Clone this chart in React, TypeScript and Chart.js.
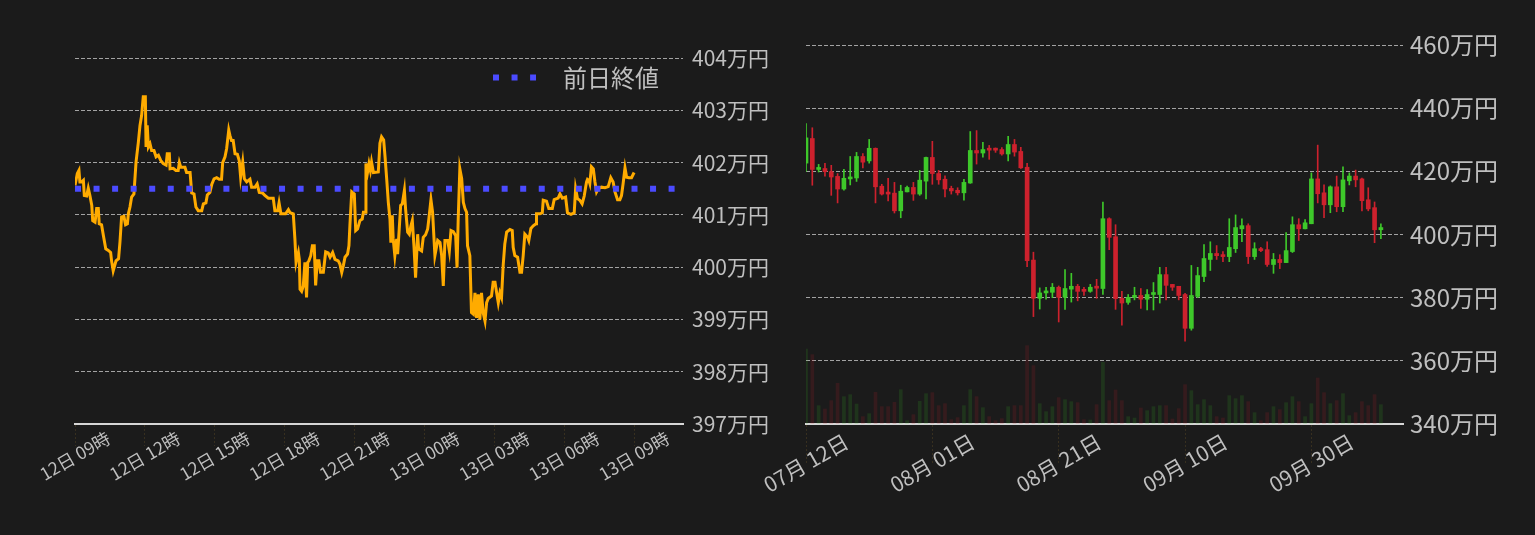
import React, { useEffect, useRef } from "react";
import { Chart, registerables } from "chart.js";

Chart.register(...registerables);

const FONT = '"Noto Sans CJK JP", "Noto Sans", sans-serif';
const TEXT = "#bfbfbf";
const BG = "#1b1b1b";
const GRID = "rgba(210,210,210,0.75)";
const AXIS_LINE = "#d6d6d6";

// ---------- Left: intraday (hours since 12日 09時, price in 万円) ----------
const intradaySeries: [number, number][] = [
  [0, 401.56], [0.1, 401.79], [0.17, 401.85], [0.21, 401.63], [0.29, 401.63], [0.36, 401.66], [0.4, 401.37], [0.5, 401.36], [0.57, 401.51], [0.64, 401.37],
  [0.72, 401.18], [0.76, 400.89], [0.86, 400.86], [0.93, 401.12], [1.0, 401.12], [1.04, 400.83], [1.14, 400.81], [1.22, 400.6], [1.32, 400.35], [1.43, 400.32],
  [1.53, 400.28], [1.57, 400.12], [1.64, 399.93], [1.76, 400.12], [1.87, 400.16], [1.93, 400.48], [2.0, 400.96], [2.1, 400.97], [2.17, 400.81], [2.25, 400.83],
  [2.29, 401.02], [2.36, 401.15], [2.43, 401.34], [2.53, 401.4], [2.62, 402.01], [2.72, 402.39], [2.79, 402.71], [2.86, 402.9], [2.93, 403.26], [3.02, 403.26],
  [3.05, 402.3], [3.1, 402.71], [3.15, 402.3], [3.22, 402.36], [3.29, 402.23], [3.39, 402.23], [3.48, 402.11], [3.58, 402.14], [3.68, 402.04], [3.79, 401.98],
  [3.91, 401.95], [3.96, 402.17], [4.05, 402.17], [4.08, 401.88], [4.22, 401.89], [4.33, 401.85], [4.43, 401.85], [4.48, 402.0], [4.54, 401.91], [4.72, 401.91],
  [4.79, 401.81], [4.94, 401.81], [5.01, 401.42], [5.11, 401.4], [5.19, 401.15], [5.29, 401.08], [5.44, 401.08], [5.51, 401.21], [5.62, 401.23], [5.68, 401.38],
  [5.79, 401.43], [5.87, 401.58], [5.97, 401.69], [6.08, 401.71], [6.19, 401.68], [6.29, 401.68], [6.34, 402.0], [6.44, 402.11], [6.51, 402.27], [6.6, 402.62],
  [6.65, 402.52], [6.72, 402.42], [6.79, 402.42], [6.87, 402.17], [6.97, 402.16], [7.05, 402.04], [7.11, 401.72], [7.2, 402.01], [7.27, 401.69], [7.37, 401.63],
  [7.51, 401.68], [7.58, 401.53], [7.73, 401.53], [7.82, 401.59], [7.91, 401.43], [8.05, 401.42], [8.15, 401.37], [8.3, 401.32], [8.37, 401.32],
  [8.51, 401.32], [8.58, 401.08], [8.7, 401.08], [8.76, 401.23], [8.84, 401.02], [9.04, 401.02], [9.16, 401.1], [9.23, 401.04], [9.37, 401.02], [9.44, 400.54],
  [9.49, 400.09], [9.59, 400.28], [9.63, 400.15], [9.66, 399.58], [9.73, 399.54], [9.8, 399.64], [9.87, 400.09], [9.94, 399.42], [9.99, 400.09], [10.04, 400.12],
  [10.12, 400.22], [10.19, 400.41], [10.27, 400.41], [10.33, 399.65], [10.4, 400.12], [10.47, 400.12], [10.54, 399.9], [10.66, 399.9], [10.76, 400.29], [10.87, 400.27],
  [10.95, 400.19], [11.06, 400.28], [11.16, 400.15], [11.3, 400.12], [11.37, 400.06], [11.45, 399.9], [11.52, 400.03], [11.59, 400.19], [11.7, 400.25], [11.76, 400.41],
  [11.8, 400.79], [11.88, 401.44], [11.99, 401.4], [12.05, 400.7], [12.13, 400.73], [12.23, 400.89], [12.33, 400.92], [12.38, 401.05], [12.45, 401.05], [12.49, 401.98],
  [12.56, 401.82], [12.62, 401.98], [12.68, 401.85], [12.73, 402.01], [12.81, 401.81], [13.02, 401.82], [13.09, 402.37], [13.16, 402.49], [13.25, 402.43], [13.31, 402.11],
  [13.38, 401.69], [13.45, 401.24], [13.52, 400.92], [13.56, 400.47], [13.62, 400.99], [13.66, 400.54], [13.73, 400.22], [13.81, 400.54], [13.85, 400.25], [13.91, 400.67],
  [13.98, 401.18], [14.05, 401.21], [14.14, 401.47], [14.19, 401.12], [14.28, 400.67], [14.35, 400.63], [14.42, 400.79], [14.48, 400.89], [14.55, 400.41], [14.62, 399.8],
  [14.71, 400.63], [14.75, 400.35], [14.88, 400.31], [14.95, 400.57], [15.05, 400.62], [15.14, 400.73], [15.19, 400.92], [15.28, 401.29], [15.35, 401.05], [15.45, 400.22],
  [15.57, 400.51], [15.67, 400.47], [15.74, 400.22], [15.81, 399.64], [15.88, 400.51], [16.0, 400.51], [16.07, 400.31], [16.14, 400.7], [16.24, 400.68], [16.34, 400.6],
  [16.4, 399.99], [16.45, 400.92], [16.52, 401.88], [16.6, 401.69], [16.67, 401.24],
  [16.74, 401.12], [16.81, 401.05], [16.85, 400.41], [16.95, 400.22], [17.02, 399.13], [17.1, 399.1], [17.17, 399.51], [17.24, 399.03], [17.31, 399.48], [17.38, 399.0],
  [17.45, 399.51], [17.52, 399.13], [17.6, 398.97], [17.67, 399.32], [17.74, 399.4], [17.88, 399.45], [17.95, 399.71], [18.03, 399.71], [18.1, 399.51], [18.17, 399.32],
  [18.24, 399.51], [18.31, 399.42], [18.38, 400.03], [18.45, 400.44], [18.53, 400.67], [18.67, 400.72], [18.77, 400.7], [18.81, 400.38], [18.88, 400.22], [19.0, 400.19],
  [19.1, 399.9], [19.17, 399.9], [19.24, 400.22], [19.31, 400.63], [19.43, 400.57], [19.48, 400.51], [19.57, 400.74], [19.67, 400.79], [19.79, 400.83], [19.81, 401.02],
  [19.96, 401.02], [20.06, 401.04], [20.1, 401.28], [20.24, 401.26], [20.34, 401.12], [20.49, 401.12], [20.57, 401.29], [20.74, 401.32], [20.82, 401.4], [20.92, 401.32],
  [21.06, 401.34], [21.14, 401.04], [21.29, 401.01], [21.43, 401.04], [21.49, 401.5], [21.57, 401.31], [21.67, 401.28], [21.77, 401.21], [21.86, 401.36], [21.92, 401.53],
  [21.96, 401.63], [22.0, 401.68], [22.06, 401.66], [22.1, 401.6], [22.17, 401.92], [22.25, 401.88], [22.32, 401.63], [22.39, 401.44], [22.46, 401.5], [22.6, 401.53],
  [22.75, 401.52], [22.89, 401.54], [23.0, 401.71], [23.1, 401.63], [23.18, 401.44], [23.29, 401.29], [23.39, 401.29], [23.46, 401.37], [23.53, 401.6], [23.61, 401.9],
  [23.68, 401.72], [23.78, 401.71], [23.89, 401.71], [24.0, 401.81],
];
const prevClose = 401.5;
const prevCloseLabel = "前日終値";
const intradayXTicks = [0, 3, 6, 9, 12, 15, 18, 21, 24];
const intradayXMax = 26.1;
const intradayYMin = 397;
const intradayYMax = 404;

// ---------- Right: daily candles from 07月12日 ----------
const dailyOpen = [
  422.6, 430.4, 420.6, 420.9, 419.9, 418.4, 414.4, 417.6, 417.9, 424.7,
  423.3, 427.3, 415.3, 413.1, 413.1, 407.5, 413.5, 414.9, 412.8, 416.9,
  424.4, 419.3, 417.5, 414.6, 414.0, 413.2, 416.3, 426.6, 425.8, 426.9,
  426.9, 426.9, 425.5, 428.5, 426.3, 421.3, 391.9, 379.8, 381.5, 381.7,
  383.3, 380.1, 382.7, 383.6, 382.2, 382.0, 383.3, 382.9, 405.0, 399.3,
  379.8, 378.5, 380.1, 380.7, 379.5, 381.0, 381.0, 387.3, 384.2, 383.6,
  381.0, 370.3, 380.4, 386.7, 392.1, 394.0, 393.6, 393.0, 395.5, 401.8,
  402.8, 393.0, 395.5, 395.2, 390.5, 392.1, 391.1, 394.6, 403.1, 401.8,
  403.4, 417.6, 413.2, 409.4, 415.1, 408.8, 417.0, 418.5, 417.6, 411.0,
  408.5, 401.5,
];
const dailyHigh = [
  435.1, 433.8, 422.2, 422.5, 421.9, 419.3, 420.6, 424.7, 426.0, 425.6,
  430.1, 427.4, 415.9, 417.8, 416.5, 415.6, 415.3, 416.5, 420.3, 424.5,
  429.5, 420.3, 418.6, 415.3, 414.8, 417.5, 432.6, 432.9, 429.2, 428.2,
  427.4, 427.5, 431.1, 430.1, 427.6, 422.5, 394.4, 383.1, 383.3, 384.5,
  383.7, 388.9, 387.7, 384.2, 383.3, 384.2, 385.8, 410.3, 405.3, 403.1,
  382.0, 381.0, 383.3, 382.9, 382.6, 384.8, 389.6, 389.6, 384.2, 383.6,
  381.4, 390.2, 389.6, 396.8, 397.7, 396.5, 394.6, 405.0, 406.2, 405.0,
  403.4, 397.4, 395.9, 397.7, 394.0, 393.6, 400.6, 405.6, 405.0, 404.7,
  419.5, 428.3, 415.7, 415.4, 418.5, 421.4, 419.5, 420.4, 417.9, 414.8,
  410.3, 403.4,
];
const dailyLow = [
  420.0, 415.6, 419.8, 418.5, 412.4, 410.0, 414.0, 415.7, 416.8, 421.1,
  422.6, 410.0, 412.5, 410.6, 406.8, 405.3, 413.5, 410.8, 412.4, 411.3,
  415.9, 415.9, 411.9, 412.8, 412.5, 410.9, 416.2, 422.3, 424.5, 423.8,
  426.0, 425.1, 423.3, 424.8, 420.9, 389.8, 374.0, 376.4, 379.5, 380.0,
  372.3, 376.3, 378.6, 379.0, 380.7, 381.7, 379.8, 381.0, 395.2, 376.3,
  371.3, 377.9, 379.3, 376.6, 376.1, 376.1, 378.3, 379.3, 382.3, 379.3,
  366.2, 369.7, 380.0, 385.1, 388.6, 392.1, 391.4, 391.4, 394.3, 397.7,
  390.8, 392.1, 394.6, 389.9, 387.7, 389.2, 391.1, 394.3, 398.1, 401.8,
  403.4, 410.0, 405.3, 406.9, 407.2, 407.2, 415.7, 415.1, 407.5, 407.5,
  397.4, 398.7,
];
const dailyClose = [
  430.6, 420.6, 420.9, 419.9, 418.2, 414.4, 417.8, 418.1, 424.7, 422.9,
  427.3, 415.1, 412.8, 412.8, 407.5, 413.7, 414.9, 412.8, 417.2, 424.4,
  419.3, 417.3, 414.4, 413.8, 413.2, 416.5, 426.6, 425.8, 426.9, 426.7,
  426.7, 425.5, 428.5, 426.1, 421.1, 391.7, 379.8, 381.5, 382.0, 383.3,
  380.1, 382.9, 383.6, 382.0, 382.0, 383.3, 383.0, 405.0, 399.1, 379.7,
  378.3, 380.1, 380.7, 379.5, 381.0, 381.4, 387.3, 383.9, 383.3, 380.7,
  370.3, 380.7, 387.0, 392.4, 394.0, 393.3, 393.0, 395.9, 402.2, 402.8,
  393.0, 395.5, 394.9, 390.5, 392.1, 391.1, 394.9, 403.1, 401.8, 403.7,
  417.6, 412.9, 409.4, 415.1, 408.8, 417.3, 418.5, 417.3, 410.7, 408.1,
  401.5, 402.2,
];
const dailyVolume = [
  225, 208, 55, 45, 70, 122, 82, 88, 60, 22,
  31, 95, 52, 52, 65, 103, 10, 28, 68, 91,
  94, 55, 61, 13, 19, 55, 103, 82, 49, 22,
  10, 16, 52, 55, 55, 235, 175, 61, 37, 52,
  79, 73, 67, 64, 13, 12, 58, 185, 70, 102,
  70, 22, 18, 48, 40, 52, 55, 55, 15, 46,
  118, 100, 58, 73, 55, 22, 18, 85, 76, 85,
  67, 34, 10, 34, 52, 43, 64, 82, 67, 22,
  61, 138, 94, 61, 70, 91, 25, 34, 67, 55,
  88, 58,
];
const dailyXTicks = [0, 20, 40, 60, 80];
const dailyXMax = 94.5;
const dailyYMin = 340;
const dailyYMax = 460;
const dailyVolMax = 1137;
const dailyStart = new Date(2024, 6, 12);

const UP = "rgb(62,200,42)";
const DOWN = "rgb(205,33,45)";
const UP_VOL = "rgba(62,200,42,0.15)";
const DOWN_VOL = "rgba(205,33,45,0.15)";

const pad2 = (n: number) => String(n).padStart(2, "0");
const fmtHour = (h: number) => {
  const t = 9 + h;
  const day = 12 + Math.floor(t / 24);
  return `${pad2(day)}日 ${pad2(t % 24)}時`;
};
const fmtDay = (d: number) => {
  const dt = new Date(dailyStart.getFullYear(), dailyStart.getMonth(), dailyStart.getDate() + d);
  return `${pad2(dt.getMonth() + 1)}月 ${pad2(dt.getDate())}日`;
};

const rotatedLabels = (size: number, offset: number, fmt: (v: number) => string) => ({
  id: "rotLabels",
  afterDraw(chart: any) {
    const s = chart.scales.x;
    const ctx = chart.ctx;
    ctx.save();
    ctx.font = `${size}px ${FONT}`;
    ctx.fillStyle = TEXT;
    ctx.textAlign = "center";
    ctx.textBaseline = "middle";
    s.ticks.forEach((t: any) => {
      const px = s.getPixelForValue(t.value);
      ctx.save();
      ctx.translate(px, s.top + offset);
      ctx.rotate(-Math.PI / 6);
      ctx.fillText(fmt(t.value), 0, 0);
      ctx.restore();
    });
    ctx.restore();
  },
});

const prevCloseLegend = {
  id: "prevLegend",
  afterDraw(chart: any) {
    const ds = chart.data.datasets[1];
    const { ctx, chartArea } = chart;
    const y = chartArea.top + 19.5;
    const textX = chartArea.right - 120;
    ctx.save();
    ctx.font = `24px ${FONT}`;
    ctx.fillStyle = TEXT;
    ctx.textAlign = "left";
    ctx.textBaseline = "middle";
    ctx.fillText(ds.label, textX, y);
    ctx.strokeStyle = ds.borderColor;
    ctx.lineWidth = ds.borderWidth;
    ctx.setLineDash(ds.borderDash);
    ctx.beginPath();
    ctx.moveTo(textX - 70, y);
    ctx.lineTo(textX - 27, y);
    ctx.stroke();
    ctx.restore();
  },
};

function leftConfig(): any {
  return {
    type: "line",
    data: {
      datasets: [
        {
          label: "価格",
          data: intradaySeries.map(([h, v]) => ({ x: h, y: v })),
          borderColor: "#ffab00",
          borderWidth: 3,
          pointRadius: 0,
          tension: 0,
          order: 2,
        },
        {
          label: prevCloseLabel,
          data: [
            { x: 0, y: prevClose },
            { x: intradayXMax, y: prevClose },
          ],
          borderColor: "#4b4bff",
          borderWidth: 6,
          borderDash: [6, 12.55],
          pointRadius: 0,
          order: 1,
        },
      ],
    },
    options: {
      animation: false,
      responsive: false,
      events: [],
      layout: { padding: { left: 75, top: 58, right: 0, bottom: 0 } },
      scales: {
        x: {
          type: "linear",
          min: 0,
          max: intradayXMax,
          afterBuildTicks: (s: any) => {
            s.ticks = intradayXTicks.map((v) => ({ value: v }));
          },
          afterFit: (s: any) => {
            s.height = 111;
          },
          ticks: { display: false },
          grid: {
            drawOnChartArea: false,
            drawTicks: true,
            tickLength: 22,
            tickColor: "rgba(110,85,40,0.35)",
            tickBorderDash: [2, 2],
          },
          border: { display: true, color: AXIS_LINE, width: 2 },
        },
        y: {
          position: "right",
          min: intradayYMin,
          max: intradayYMax,
          afterFit: (s: any) => {
            s.width = 97;
          },
          ticks: {
            stepSize: 1,
            padding: 9,
            color: TEXT,
            font: { family: FONT, size: 21 },
            callback: (v: number) => `${v}万円`,
          },
          grid: { drawTicks: false, color: GRID, lineWidth: 1 },
          border: { display: false, dash: [4, 2] },
        },
      },
      plugins: { legend: { display: false }, tooltip: { enabled: false } },
    },
    plugins: [rotatedLabels(17.5, 32, fmtHour), prevCloseLegend],
  };
}

const RIGHT_CANVAS_LEFT = 700;

function rightConfig(): any {
  const days = dailyClose.map((_, i) => i);
  const isUp = (i: number) => dailyClose[i] >= dailyOpen[i];
  return {
    type: "bar",
    data: {
      datasets: [
        {
          label: "出来高",
          data: days.map((d, i) => ({ x: d, y: dailyVolume[i] })),
          yAxisID: "yVol",
          backgroundColor: days.map((_, i) => (isUp(i) ? UP_VOL : DOWN_VOL)),
          barThickness: 3,
          grouped: false,
          order: 3,
        },
        {
          label: "高値・安値",
          data: days.map((d, i) => ({ x: d, y: [dailyLow[i], dailyHigh[i]] })),
          yAxisID: "y",
          backgroundColor: days.map((_, i) => (isUp(i) ? UP : DOWN)),
          barThickness: 1,
          grouped: false,
          order: 2,
        },
        {
          label: "始値・終値",
          data: days.map((d, i) => ({ x: d, y: [dailyOpen[i], dailyClose[i]] })),
          yAxisID: "y",
          backgroundColor: days.map((_, i) => (isUp(i) ? UP : DOWN)),
          barThickness: 4,
          minBarLength: 2,
          grouped: false,
          order: 1,
        },
      ],
    },
    options: {
      animation: false,
      responsive: false,
      events: [],
      layout: { padding: { left: 806 - RIGHT_CANVAS_LEFT, top: 45, right: 0, bottom: 0 } },
      scales: {
        x: {
          type: "linear",
          min: 0,
          max: dailyXMax,
          offset: false,
          afterBuildTicks: (s: any) => {
            s.ticks = dailyXTicks.map((v) => ({ value: v }));
          },
          afterFit: (s: any) => {
            s.height = 111;
          },
          ticks: { display: false },
          grid: {
            offset: false,
            drawOnChartArea: false,
            drawTicks: true,
            tickLength: 40,
            tickColor: "rgba(110,85,40,0.35)",
            tickBorderDash: [2, 2],
          },
          border: { display: true, color: AXIS_LINE, width: 2 },
        },
        y: {
          position: "right",
          min: dailyYMin,
          max: dailyYMax,
          afterFit: (s: any) => {
            s.width = 132;
          },
          ticks: {
            stepSize: 20,
            padding: 7,
            color: TEXT,
            font: { family: FONT, size: 24 },
            callback: (v: number) => `${v}万円`,
          },
          grid: { drawTicks: false, color: GRID, lineWidth: 1 },
          border: { display: false, dash: [4, 2] },
        },
        yVol: {
          display: false,
          position: "left",
          min: 0,
          max: dailyVolMax,
        },
      },
      plugins: { legend: { display: false }, tooltip: { enabled: false } },
    },
    plugins: [rotatedLabels(21, 39, fmtDay)],
  };
}

export default function App() {
  const leftRef = useRef<HTMLCanvasElement>(null);
  const rightRef = useRef<HTMLCanvasElement>(null);

  useEffect(() => {
    const c1 = new Chart(leftRef.current as HTMLCanvasElement, leftConfig());
    const c2 = new Chart(rightRef.current as HTMLCanvasElement, rightConfig());
    return () => {
      c1.destroy();
      c2.destroy();
    };
  }, []);

  const rightWidth = 1535 - RIGHT_CANVAS_LEFT;
  return (
    <div style={{ position: "fixed", left: 0, top: 0, width: 1535, height: 535, background: BG, overflow: "hidden" }}>
      <canvas
        ref={leftRef}
        width={780}
        height={535}
        style={{ position: "absolute", left: 0, top: 0, width: 780, height: 535 }}
      />
      <canvas
        ref={rightRef}
        width={rightWidth}
        height={535}
        style={{ position: "absolute", left: RIGHT_CANVAS_LEFT, top: 0, width: rightWidth, height: 535 }}
      />
    </div>
  );
}
